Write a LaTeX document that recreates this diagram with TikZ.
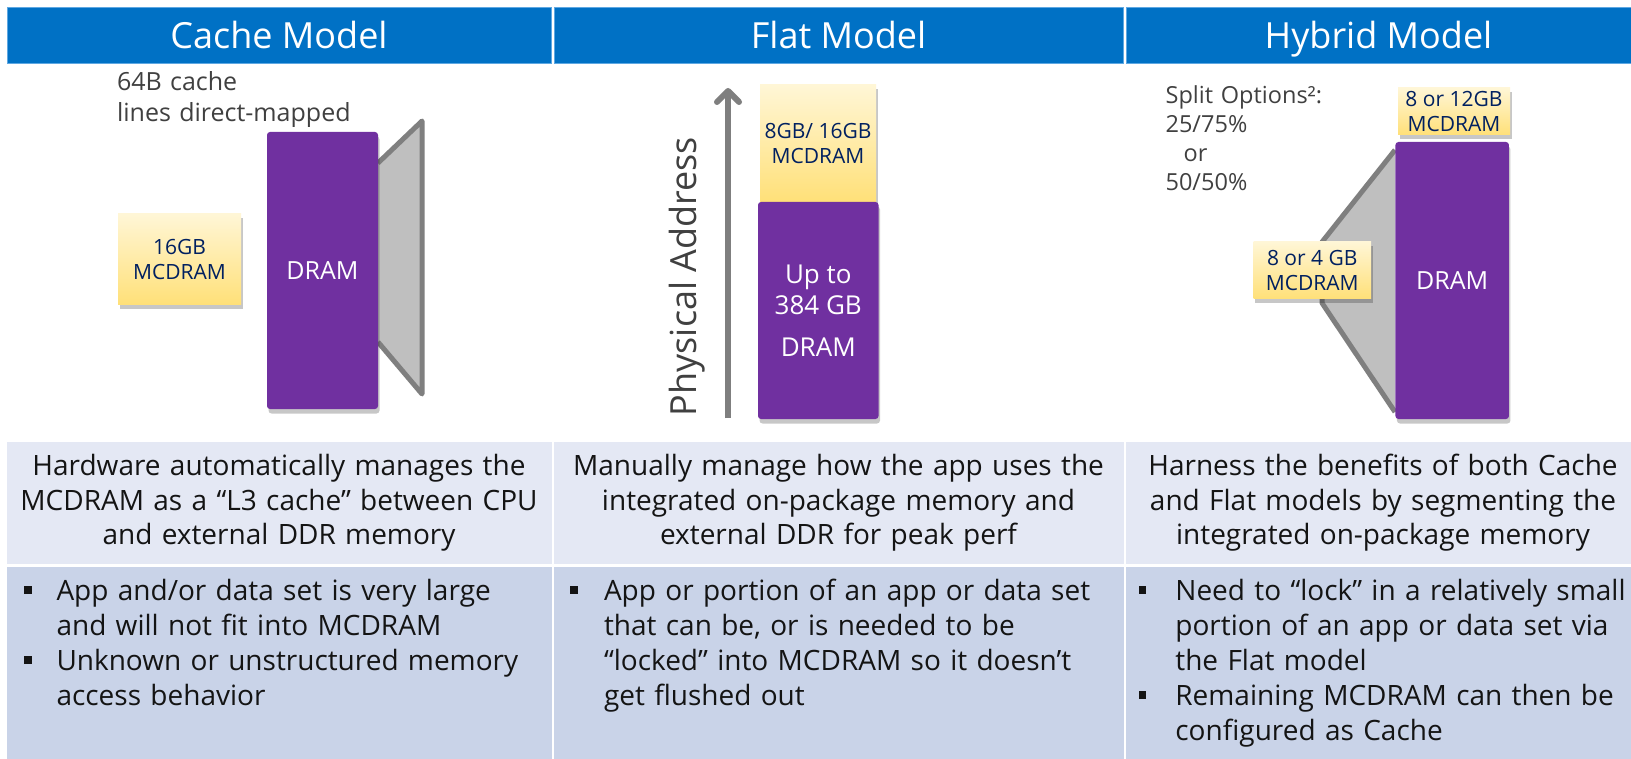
\documentclass[tikz,border=0pt]{standalone}
\usepackage{fontspec}
\setmainfont{Open Sans}
\usetikzlibrary{arrows.meta,shadows}

\definecolor{hdrblue}{RGB}{0,113,197}
\definecolor{hdredge}{RGB}{95,168,226}
\definecolor{rowlight}{RGB}{228,232,244}
\definecolor{rowdark}{RGB}{201,211,232}
\definecolor{dramviolet}{RGB}{112,48,160}
\definecolor{mcdtop}{RGB}{255,246,214}
\definecolor{mcdbot}{RGB}{255,224,120}
\definecolor{navytext}{RGB}{0,32,96}
\definecolor{labelgrey}{RGB}{64,64,64}
\definecolor{funnelfill}{RGB}{191,191,191}
\definecolor{funneledge}{RGB}{127,127,127}
\definecolor{bodytext}{RGB}{20,20,20}

\begin{document}
\begin{tikzpicture}[x=1pt,y=-1pt,
  every node/.style={inner sep=0pt, outer sep=0pt},
  hdrcell/.style={fill=hdrblue, draw=hdredge, line width=1pt, minimum height=56pt,
    anchor=north west, text=white, font=\fontsize{36}{40}\selectfont,
    text height=25.7pt, text depth=0pt},
  softshadow/.style={drop shadow={shadow xshift=1.5pt, shadow yshift=-4.5pt, opacity=0.22, fill=black}},
  dram/.style={softshadow, fill=dramviolet, rounded corners=3pt, text=white, align=center},
  mcd/.style={softshadow, top color=mcdtop, bottom color=mcdbot, text=navytext, align=center,
    font=\fontsize{21}{24.5}\selectfont},
  funnel/.style={funneledge, line width=5pt, line join=round},
  axisarrow/.style={funneledge, line width=6pt,
    -{Straight Barb[length=11pt, width=22pt, line join=round, line cap=round]}},
  note/.style={text=labelgrey, anchor=base west, align=left},
  rowtext/.style={text=bodytext, anchor=base, align=center, font=\fontsize{28}{35}\selectfont},
  itemtext/.style={text=bodytext, anchor=base west, align=left, font=\fontsize{28}{35}\selectfont},
  bulletsq/.style={fill=bodytext, minimum size=7.5pt},
]
\useasboundingbox (0,0) rectangle (1631,759);
\fill[white] (0,0) rectangle (1631,759);

% ---------- column headers ----------
\node[hdrcell, minimum width=544pt] (hc1) at (7,8) {Cache Model};
\node[hdrcell, minimum width=569pt] (hc2) at (554,8) {Flat Model};
\node[hdrcell, minimum width=505pt] (hc3) at (1126,8) {Hybrid Model};

% ---------- cache model ----------
\fill[funnelfill] (378,163) -- (422,121) -- (422,394) -- (378,342) -- cycle;
\draw[funnel] (378,163) -- (422,121) -- (422,394) -- (378,342);
\node[dram, minimum width=111pt, minimum height=277pt, font=\fontsize{25}{30}\selectfont]
  (cdram) at (322.5,270.5) {DRAM};
\node[mcd, minimum width=123pt, minimum height=91pt] (cmcd) at (179.5,259.5) {16GB\\MCDRAM};
\node[note, font=\fontsize{25}{31}\selectfont, text width=300pt] (cnote) at (117,91)
  {64B cache\\lines direct-mapped};

% ---------- flat model ----------
\coordinate (abot) at (728,418);
\coordinate (atop) at (728,88);
\draw[axisarrow] (abot) -- (atop);
\node[rotate=90, anchor=base, text=labelgrey, font=\fontsize{36}{40}\selectfont]
  (paddr) at (696,276.5) {Physical Address};
\node[mcd, minimum width=116pt, minimum height=117pt] (fmcd) at (818,143.5) {8GB/ 16GB\\MCDRAM};
\node[dram, minimum width=120.5pt, minimum height=217pt, font=\fontsize{26}{31}\selectfont]
  (fdram) at (818.25,310.5) {Up to\\384 GB\\[11pt]DRAM};

% ---------- hybrid model ----------
\fill[funnelfill] (1395,150) -- (1322,242) -- (1322,303) -- (1395,412) -- cycle;
\draw[funnel] (1395,150) -- (1322,242) -- (1322,303) -- (1395,412);
\node[dram, minimum width=113.5pt, minimum height=277pt, font=\fontsize{25}{30}\selectfont]
  (hdram) at (1452.2,280.5) {DRAM};
\node[mcd, minimum width=112pt, minimum height=47pt] (hmcdtop) at (1454,111.5) {8 or 12GB\\MCDRAM};
\node[mcd, minimum width=117.5pt, minimum height=57pt] (hmcdleft) at (1312.3,270.5) {8 or 4 GB\\MCDRAM};
\node[note, font=\fontsize{23.5}{29}\selectfont, text width=200pt] (hnote) at (1165.6,104)
  {Split Options²:\\25/75\%\\\hspace*{18pt}or\\50/50\%};

% ---------- description table ----------
\fill[rowlight] (7,442) rectangle (551.5,564);
\fill[rowlight] (553.5,442) rectangle (1123.5,564);
\fill[rowlight] (1125.5,442) rectangle (1631,564);
\fill[rowdark] (7,566.5) rectangle (551.5,759);
\fill[rowdark] (553.5,566.5) rectangle (1123.5,759);
\fill[rowdark] (1125.5,566.5) rectangle (1631,759);

\node[rowtext, text width=540pt] (d1) at (279,475)
  {Hardware automatically manages the\\MCDRAM as a “L3 cache” between CPU\\and external DDR memory};
\node[rowtext, text width=565pt] (d2) at (838.5,475)
  {Manually manage how the app uses the\\integrated on-package memory and\\external DDR for peak perf};
\node[rowtext, text width=500pt] (d3) at (1383,475)
  {Harness the benefits of both Cache\\and Flat models by segmenting the\\integrated on-package memory};

\node[bulletsq] (b11) at (27.8,590) {};
\node[itemtext, text width=490pt] (i11) at (56.5,600)
  {App and/or data set is very large\\and will not fit into MCDRAM};
\node[bulletsq] (b12) at (27.8,660) {};
\node[itemtext, text width=490pt] (i12) at (56.5,670)
  {Unknown or unstructured memory\\access behavior};

\node[bulletsq] (b21) at (574,590) {};
\node[itemtext, text width=515pt] (i21) at (604,600)
  {App or portion of an app or data set\\that can be, or is needed to be\\“locked” into MCDRAM so it doesn’t\\get flushed out};

\node[bulletsq] (b31) at (1142.7,590) {};
\node[itemtext, text width=455pt] (i31) at (1175.4,600)
  {Need to “lock” in a relatively small\\portion of an app or data set via\\the Flat model};
\node[bulletsq] (b32) at (1142.7,695) {};
\node[itemtext, text width=455pt] (i32) at (1175.4,705)
  {Remaining MCDRAM can then be\\configured as Cache};
\end{tikzpicture}
\end{document}
